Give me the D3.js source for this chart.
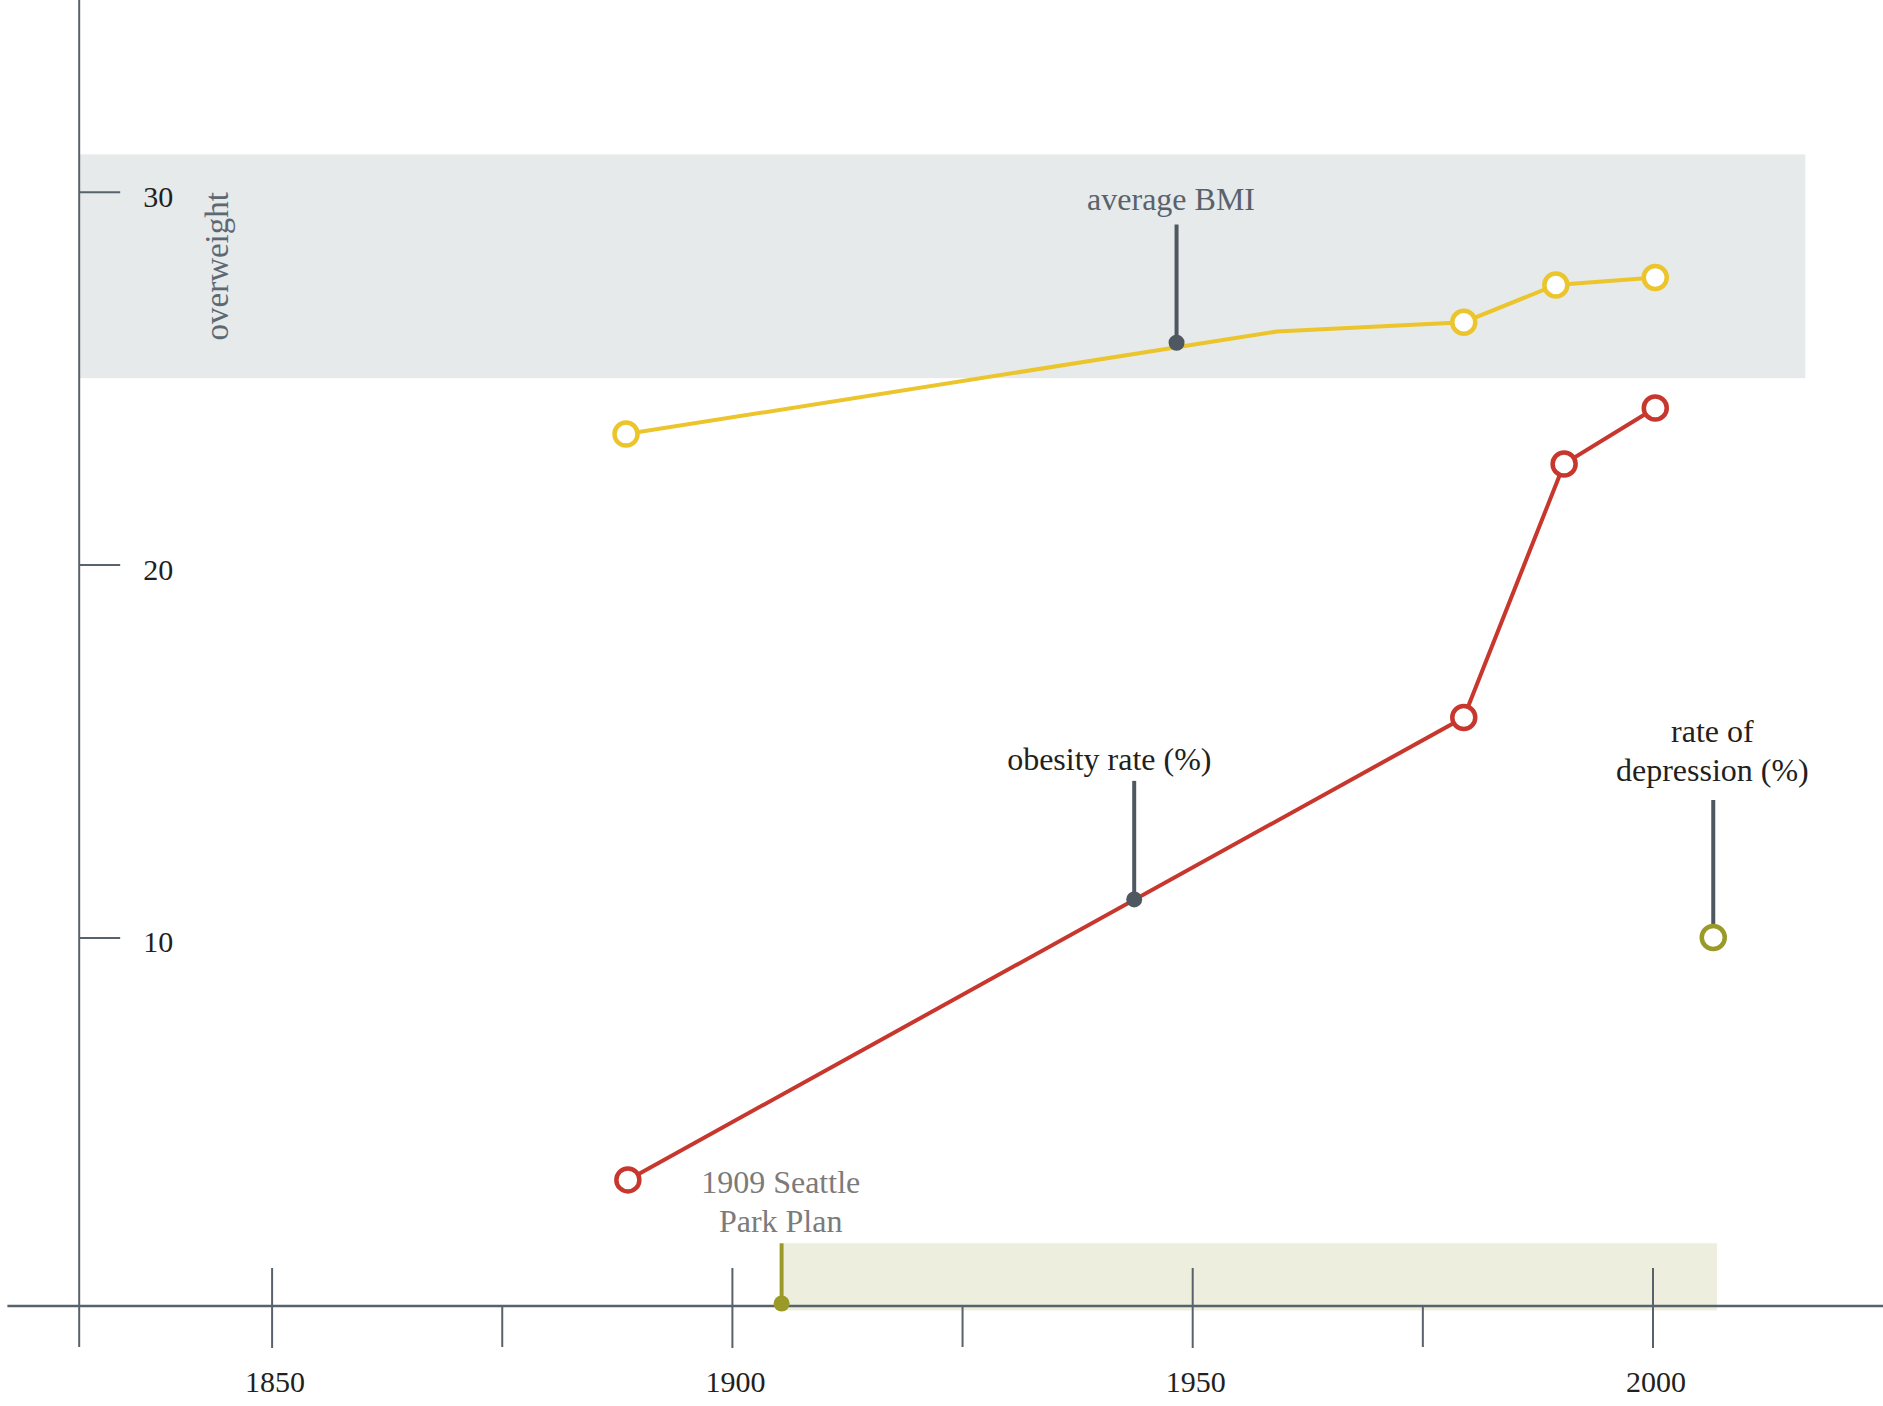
<!DOCTYPE html>
<html>
<head>
<meta charset="utf-8">
<script src="https://cdn.jsdelivr.net/npm/d3@7"></script>
<style>
  body { margin: 0; background: #fff; }
  svg { display: block; font-family: "Liberation Serif", serif; }
</style>
</head>
<body>
<svg width="1883" height="1406"></svg>
<script>
// values
var bmiYears = [1888.5, 1959.2, 1979.5, 1989.5, 2000.3];
var bmiValues = [23.5, 26.25, 26.5, 27.5, 27.7];
var bmiMarked = [true, false, true, true, true];

var obesityYears = [1888.7, 1979.5, 1990.4, 2000.3];
var obesityValues = [3.5, 15.9, 22.7, 24.2];

var depressionYears = [2006.6];
var depressionValues = [10.0];

var overweightBand = [25, 31];          // BMI range shaded grey
var overweightYears = [1829.1, 2016.6];
var parkYears = [1905.4, 2007];         // park plan period
var parkBandTop = 1.8;

var xTicksMajor = [1850, 1900, 1950, 2000];
var xTicksMinor = [1875, 1925, 1975];
var yTicks = [10, 20, 30];

var svg = d3.select("svg");

var x = d3.scaleLinear().domain([1850, 2000]).range([271.6, 1652.5]);
var y = d3.scaleLinear().domain([0, 30]).range([1310.4, 191.7]);

var axisColor = "#58626d",
    yellow = "#ebc52b",
    red = "#c8372d",
    olive = "#999a28",
    pinColor = "#4f5761";
var axisY = 1306;

// shaded bands
svg.append("rect")
    .attr("x", x(overweightYears[0]))
    .attr("y", y(overweightBand[1]))
    .attr("width", x(overweightYears[1]) - x(overweightYears[0]))
    .attr("height", y(overweightBand[0]) - y(overweightBand[1]))
    .style("fill", "#e6eaea");

svg.append("rect")
    .attr("x", x(parkYears[0]) + 2)
    .attr("y", y(parkBandTop))
    .attr("width", x(parkYears[1]) - x(parkYears[0]) - 2)
    .attr("height", y(0) - y(parkBandTop))
    .style("fill", "#edeedd");

// y axis
svg.append("line")
    .attr("x1", x(1829.1)).attr("x2", x(1829.1))
    .attr("y1", 0).attr("y2", 1347)
    .style("stroke", axisColor).style("stroke-width", 2);

var yAxis = svg.append("g")
    .attr("transform", "translate(" + x(1829.1) + ",0)")
    .call(d3.axisRight(y).tickValues(yTicks).tickSize(41).tickPadding(23));
yAxis.select(".domain").remove();
yAxis.selectAll("line").style("stroke", axisColor).style("stroke-width", 2);
yAxis.selectAll("text")
    .attr("dy", "0.48em")
    .style("font-family", "Liberation Serif")
    .style("font-size", "30px")
    .style("fill", "#231f20");

// x axis
svg.append("line")
    .attr("x1", x(1821.3)).attr("x2", 1883)
    .attr("y1", axisY).attr("y2", axisY)
    .style("stroke", axisColor).style("stroke-width", 2.5);

var xMajor = svg.append("g")
    .attr("transform", "translate(0," + axisY + ")")
    .call(d3.axisBottom(x).tickValues(xTicksMajor).tickFormat(d3.format("d")).tickSize(42));
xMajor.select(".domain").remove();
xMajor.selectAll("line")
    .attr("y1", -38)
    .style("stroke", axisColor).style("stroke-width", 2);
xMajor.selectAll("text")
    .attr("y", 86).attr("dy", 0)
    .attr("dx", 3)
    .style("font-family", "Liberation Serif")
    .style("font-size", "30px")
    .style("fill", "#231f20");

var xMinor = svg.append("g")
    .attr("transform", "translate(0," + axisY + ")")
    .call(d3.axisBottom(x).tickValues(xTicksMinor).tickFormat("").tickSize(41));
xMinor.select(".domain").remove();
xMinor.selectAll("line").style("stroke", axisColor).style("stroke-width", 2);

// overweight label
svg.append("text")
    .attr("transform", "translate(228," + y(28.0) + ") rotate(-90)")
    .attr("text-anchor", "middle")
    .style("font-size", "33px")
    .style("fill", "#5d6873")
    .text("overweight");

// lines
var line = d3.line()
    .x(function(d) { return x(d[0]); })
    .y(function(d) { return y(d[1]); });

var bmi = d3.zip(bmiYears, bmiValues, bmiMarked);
var obesity = d3.zip(obesityYears, obesityValues);
var depression = d3.zip(depressionYears, depressionValues);

svg.append("path")
    .datum(bmi)
    .attr("d", line)
    .style("fill", "none").style("stroke", yellow).style("stroke-width", 4);

svg.append("path")
    .datum(obesity)
    .attr("d", line)
    .style("fill", "none").style("stroke", red).style("stroke-width", 4);

// pins
function pin(year, v1, v2, color, width) {
  svg.append("line")
      .attr("x1", x(year)).attr("x2", x(year))
      .attr("y1", y(v1)).attr("y2", y(v2))
      .style("stroke", color).style("stroke-width", width);
}
function label(lines, year, baseline, color, size) {
  var t = svg.append("text")
      .attr("text-anchor", "middle")
      .style("font-size", size)
      .style("fill", color);
  lines.forEach(function(s, i) {
    t.append("tspan")
        .attr("x", x(year))
        .attr("y", baseline + i * 38.5)
        .text(s);
  });
}

pin(1948.3, 29.12, 25.95, pinColor, 4);
svg.append("circle").attr("cx", x(1948.3)).attr("cy", y(25.95)).attr("r", 8).style("fill", pinColor);
label(["average BMI"], 1947.7, 210, "#59626c", "32px");

pin(1943.7, 14.2, 11.02, pinColor, 4);
svg.append("circle").attr("cx", x(1943.7)).attr("cy", y(11.02)).attr("r", 8).style("fill", pinColor);
label(["obesity rate (%)"], 1941, 770, "#231f20", "32px");

pin(depressionYears[0], 13.69, depressionValues[0], pinColor, 4);
label(["rate of", "depression (%)"], 2006.5, 742, "#231f20", "32px");

pin(parkYears[0], parkBandTop, 0.18, olive, 4);
svg.append("circle").attr("cx", x(parkYears[0])).attr("cy", axisY - 2.5).attr("r", 8).style("fill", olive);
label(["1909 Seattle", "Park Plan"], 1905.3, 1193, "#7b7b7b", "32px");

// markers
svg.selectAll(".bmi-dot")
    .data(bmi.filter(function(d) { return d[2]; }))
    .enter()
  .append("circle")
    .attr("class", "bmi-dot")
    .attr("cx", function(d) { return x(d[0]); })
    .attr("cy", function(d) { return y(d[1]); })
    .attr("r", 11.5)
    .style("fill", "#fff").style("stroke", yellow).style("stroke-width", 4.5);

svg.selectAll(".ob-dot")
    .data(obesity)
    .enter()
  .append("circle")
    .attr("class", "ob-dot")
    .attr("cx", function(d) { return x(d[0]); })
    .attr("cy", function(d) { return y(d[1]); })
    .attr("r", 11.5)
    .style("fill", "#fff").style("stroke", red).style("stroke-width", 4.5);

svg.selectAll(".dep-dot")
    .data(depression)
    .enter()
  .append("circle")
    .attr("class", "dep-dot")
    .attr("cx", function(d) { return x(d[0]); })
    .attr("cy", function(d) { return y(d[1]); })
    .attr("r", 11.5)
    .style("fill", "#fff").style("stroke", olive).style("stroke-width", 4.5);
</script>
</body>
</html>
